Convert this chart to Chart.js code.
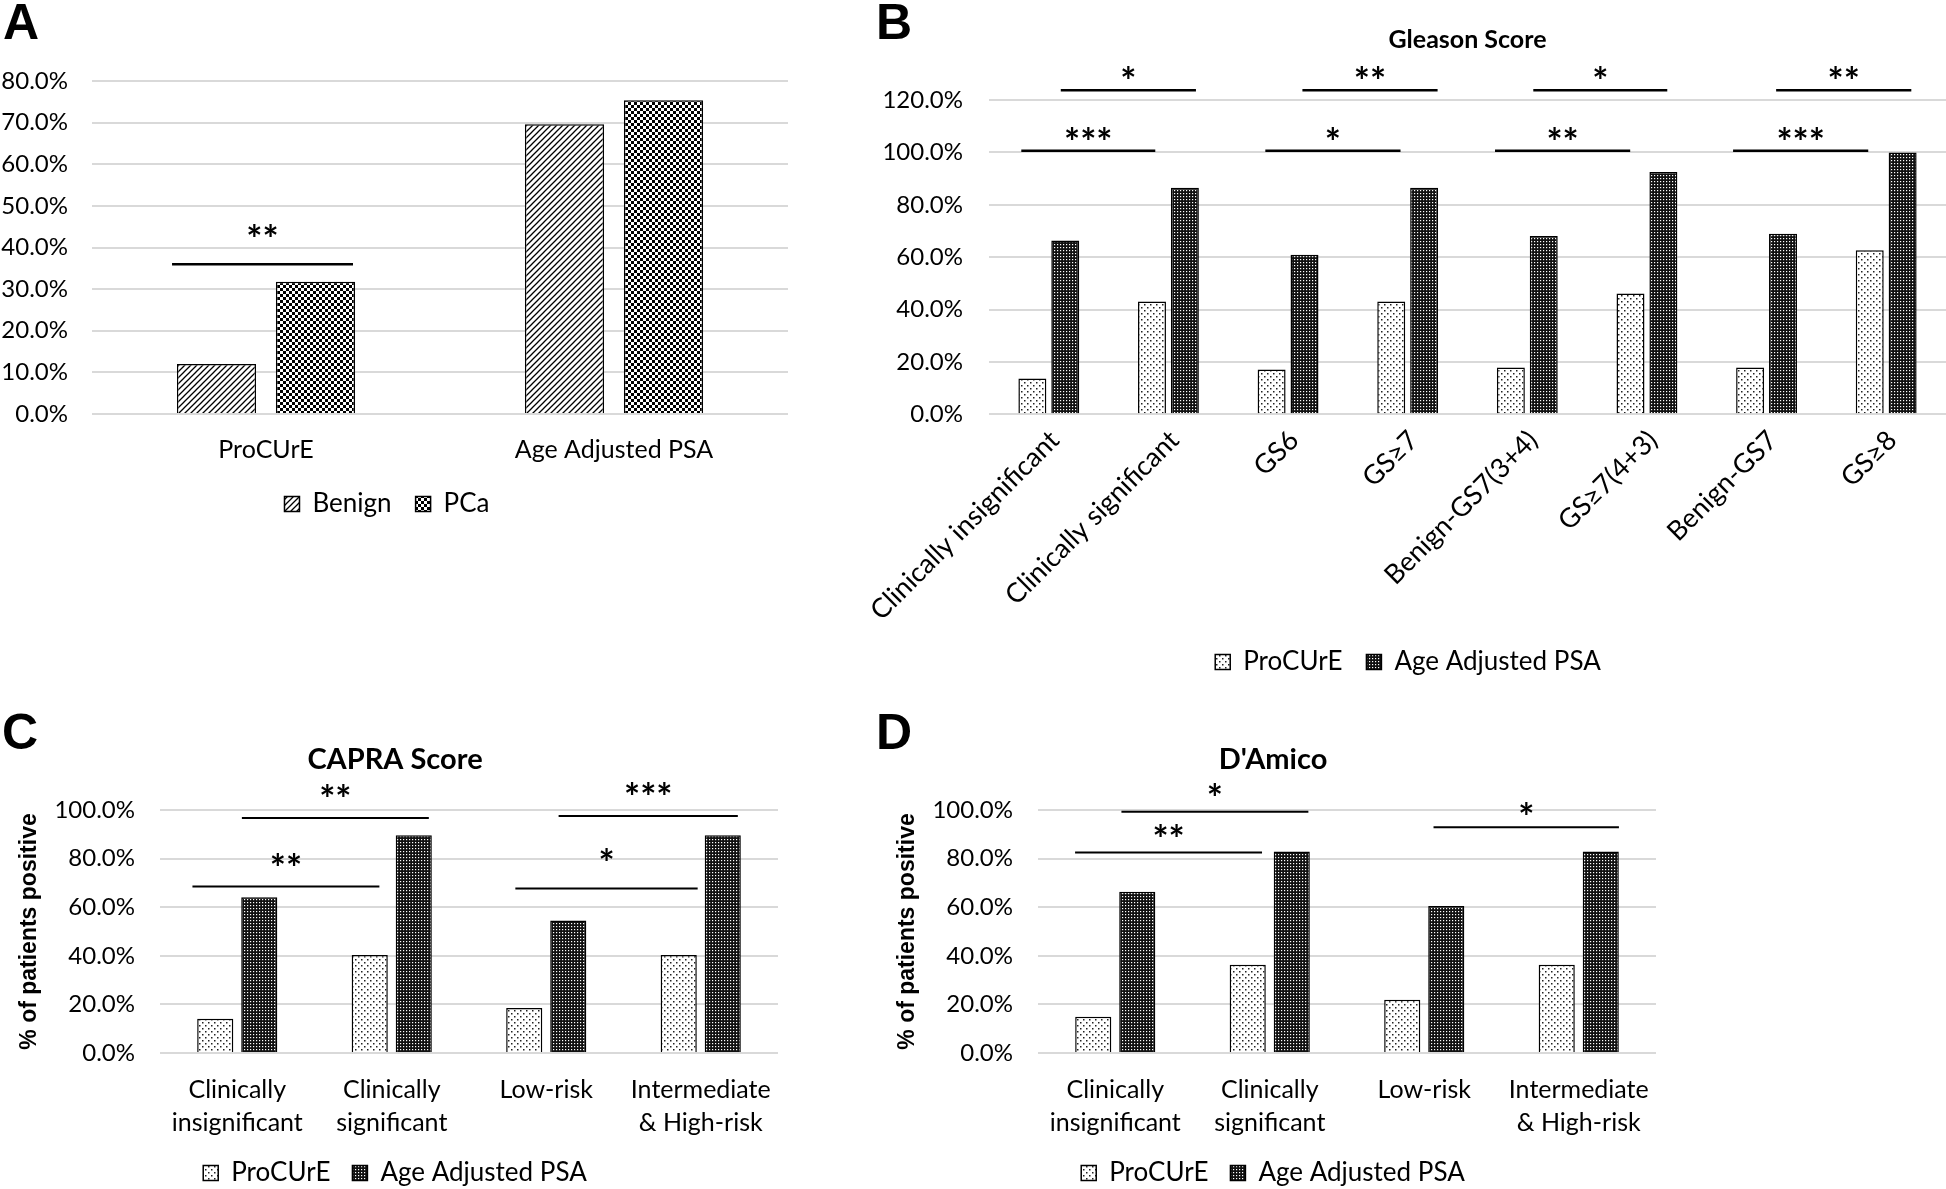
<!DOCTYPE html>
<html>
<head>
<meta charset="utf-8">
<script src="https://cdn.jsdelivr.net/npm/chart.js@4.4.1/dist/chart.umd.min.js"></script>
<style>
  html, body { margin: 0; padding: 0; background: #fff; overflow: hidden; width: 1946px; height: 1189px; }
  .panel { position: absolute; }
  .letter { position: absolute; font-family: "Liberation Sans", Arial, sans-serif; font-weight: bold; font-size: 50px; line-height: 1; color: #000; }
</style>
</head>
<body>
<div class="letter" style="left:3px;top:-3px">A</div>
<div class="letter" style="left:876px;top:-3px">B</div>
<div class="letter" style="left:2px;top:707px">C</div>
<div class="letter" style="left:876px;top:707px">D</div>

<div class="panel" style="left:-14px;top:0;width:814px;height:540px"><canvas id="chartA"></canvas></div>
<div class="panel" style="left:870px;top:0;width:1076px;height:690px"><canvas id="chartB"></canvas></div>
<div class="panel" style="left:0;top:700px;width:794px;height:496px"><canvas id="chartC"></canvas></div>
<div class="panel" style="left:878px;top:700px;width:794px;height:496px"><canvas id="chartD"></canvas></div>

<script>
// ---- data ----
const catsA = ['ProCUrE', 'Age Adjusted PSA'];
const benignA = [12.0, 69.6];
const pcaA = [31.8, 75.4];

const catsB = ['Clinically insignificant', 'Clinically significant', 'GS6', 'GS\u22657',
  'Benign-GS7(3+4)', 'GS\u22657(4+3)', 'Benign-GS7', 'GS\u22658'];
const procureB = [13.7, 43.1, 17.1, 43.1, 17.9, 46.1, 17.9, 62.6];
const psaB = [66.4, 86.5, 60.9, 86.5, 68.1, 92.5, 68.9, 100.0];

const catsCD = [['Clinically', 'insignificant'], ['Clinically', 'significant'], 'Low-risk', ['Intermediate', '& High-risk']];
const procureC = [14.1, 40.3, 18.5, 40.3];
const psaC = [64.1, 89.6, 54.5, 89.6];
const procureD = [14.9, 36.3, 21.9, 36.3];
const psaD = [66.4, 82.9, 60.5, 82.9];

// significance markers: from/to in category units, y = line value, ty = star value
const sigA = [{from: -0.27, to: 0.25, y: 36, ty: 44.3, text: '**'}];
const sigB = [
  {from: -0.23, to: 0.89, y: 100.6, ty: 107.5, text: '***'},
  {from: 1.81, to: 2.94, y: 100.6, ty: 107.5, text: '*'},
  {from: 3.73, to: 4.86, y: 100.6, ty: 107.5, text: '**'},
  {from: 5.72, to: 6.85, y: 100.6, ty: 107.5, text: '***'},
  {from: 0.10, to: 1.23, y: 123.7, ty: 130.7, text: '*'},
  {from: 2.12, to: 3.25, y: 123.7, ty: 130.7, text: '**'},
  {from: 4.05, to: 5.17, y: 123.7, ty: 130.7, text: '*'},
  {from: 6.08, to: 7.21, y: 123.7, ty: 130.7, text: '**'}
];
const sigC = [
  {from: 0.03, to: 1.24, y: 96.7, ty: 108.2, text: '**'},
  {from: -0.29, to: 0.92, y: 68.5, ty: 79.7, text: '**'},
  {from: 2.08, to: 3.24, y: 97.5, ty: 108.9, text: '***'},
  {from: 1.80, to: 2.98, y: 67.7, ty: 81.9, text: '*'}
];
const sigD = [
  {from: 0.04, to: 1.25, y: 99.3, ty: 108.5, text: '*'},
  {from: -0.26, to: 0.95, y: 82.5, ty: 91.8, text: '**'},
  {from: 2.06, to: 3.26, y: 92.9, ty: 100.7, text: '*'}
];

Chart.defaults.color = '#000';
Chart.defaults.font.family = 'Lato';

// fill patterns like the excel ones
function pattern(kind) {
  const c = document.createElement('canvas');
  const g = c.getContext('2d');
  if (kind === 'hatch') {
    c.width = c.height = 6;
    g.fillStyle = '#fff'; g.fillRect(0, 0, 6, 6);
    g.strokeStyle = '#000'; g.lineWidth = 1.3;
    g.beginPath();
    g.moveTo(0, 6); g.lineTo(6, 0);
    g.moveTo(-1, 1); g.lineTo(1, -1);
    g.moveTo(5, 7); g.lineTo(7, 5);
    g.stroke();
  } else if (kind === 'checker') {
    c.width = c.height = 6;
    g.fillStyle = '#fff'; g.fillRect(0, 0, 6, 6);
    g.fillStyle = '#000'; g.fillRect(0, 0, 3, 3); g.fillRect(3, 3, 3, 3);
  } else if (kind === 'dots') {
    c.width = c.height = 6;
    g.fillStyle = '#fff'; g.fillRect(0, 0, 6, 6);
    g.fillStyle = '#222'; g.fillRect(1, 1, 1.5, 1.5); g.fillRect(4, 4, 1.5, 1.5);
  } else {
    c.width = c.height = 3;
    g.fillStyle = '#111'; g.fillRect(0, 0, 3, 3);
    g.fillStyle = '#fff'; g.fillRect(1, 1, 1.2, 1.2);
  }
  return g.createPattern(c, 'repeat');
}

const sigPlugin = {
  id: 'sig',
  afterDatasetsDraw(chart, args, opts) {
    const {ctx, scales: {x, y}} = chart;
    ctx.save();
    ctx.strokeStyle = '#000';
    ctx.fillStyle = '#000';
    ctx.lineWidth = opts.lineWidth || 2;
    ctx.font = 'bold 38px Lato';
    ctx.textAlign = 'center';
    ctx.textBaseline = 'alphabetic';
    opts.items.forEach(b => {
      const xa = x.getPixelForValue(b.from);
      const xb = x.getPixelForValue(b.to);
      const yl = y.getPixelForValue(b.y);
      ctx.beginPath(); ctx.moveTo(xa, yl); ctx.lineTo(xb, yl); ctx.stroke();
      const m = ctx.measureText(b.text);
      const cy = y.getPixelForValue(b.ty);
      ctx.fillText(b.text, (xa + xb) / 2, cy + (m.actualBoundingBoxAscent - m.actualBoundingBoxDescent) / 2);
    });
    ctx.restore();
  }
};

function barChart(id, o) {
  return new Chart(document.getElementById(id), {
    type: 'bar',
    data: {
      labels: o.labels,
      datasets: o.sets.map(s => ({
        label: s.label,
        data: s.data,
        backgroundColor: s.fill,
        borderColor: '#000',
        borderWidth: 1.5,
        categoryPercentage: o.catPct,
        barPercentage: o.barPct
      }))
    },
    options: {
      responsive: true,
      maintainAspectRatio: false,
      animation: false,
      layout: { padding: o.padding },
      plugins: {
        title: {
          display: !!o.title,
          text: o.title,
          fullSize: o.titleFull,
          font: { family: 'Lato', weight: 'bold', size: o.titleSize },
          padding: o.titlePad
        },
        legend: {
          position: 'bottom',
          labels: { font: { size: 26 }, boxWidth: 15, boxHeight: 15, padding: o.legendPad }
        },
        tooltip: { enabled: false },
        sig: { items: o.sig, lineWidth: o.sigWidth }
      },
      scales: {
        x: {
          grid: { display: false, drawTicks: false },
          border: { display: false },
          ticks: {
            autoSkip: false,
            maxRotation: o.rot, minRotation: o.rot,
            labelOffset: o.labelOffset || 0,
            padding: o.xPad,
            font: { size: o.xSize, lineHeight: o.xLine }
          },
          afterFit: s => { s.height = o.xHeight; s.paddingLeft = 0; s.paddingRight = 0; }
        },
        y: {
          min: 0, max: o.max,
          grid: { color: '#d9d9d9', lineWidth: 2, drawTicks: false },
          border: { display: false },
          ticks: {
            stepSize: o.step,
            padding: o.tickPad,
            font: { size: 24 },
            callback: v => v.toFixed(1) + '%'
          },
          title: {
            display: !!o.yTitle,
            text: o.yTitle,
            font: { family: 'Liberation Sans', weight: 'bold', size: 23 },
            padding: { top: 4, bottom: 4 }
          },
          afterFit: s => { s.width = o.yWidth; }
        }
      }
    },
    plugins: [sigPlugin]
  });
}

const hatch = pattern('hatch');
const checker = pattern('checker');
const dots = pattern('dots');
const dark = pattern('dark');

barChart('chartA', {
  labels: catsA,
  sets: [{label: 'Benign', data: benignA, fill: hatch}, {label: 'PCa', data: pcaA, fill: checker}],
  catPct: 0.569, barPct: 0.8,
  padding: {top: 81, left: 0, right: 12, bottom: 13},
  legendPad: 24, rot: 0, xPad: 21, xSize: 25, xLine: 1.2, xHeight: 53,
  max: 80, step: 10, tickPad: 24, yWidth: 106,
  sig: sigA, sigWidth: 2.5
});

barChart('chartB', {
  labels: catsB,
  sets: [{label: 'ProCUrE', data: procureB, fill: dots}, {label: 'Age Adjusted PSA', data: psaB, fill: dark}],
  catPct: 0.55, barPct: 0.85,
  title: 'Gleason Score', titleFull: false, titleSize: 25, titlePad: {top: 25, bottom: 45},
  padding: {top: 0, left: 0, right: 0, bottom: 5},
  legendPad: 24, rot: 45, labelOffset: 6, xPad: 10, xSize: 27, xLine: 1.2, xHeight: 210.7,
  max: 120, step: 20, tickPad: 26, yWidth: 119,
  sig: sigB, sigWidth: 2.5
});

barChart('chartC', {
  labels: catsCD,
  sets: [{label: 'ProCUrE', data: procureC, fill: dots}, {label: 'Age Adjusted PSA', data: psaC, fill: dark}],
  catPct: 0.57, barPct: 0.82,
  title: 'CAPRA Score', titleFull: true, titleSize: 29, titlePad: {top: 42.6, bottom: 32.6},
  padding: {top: 0, left: 12, right: 16, bottom: 0},
  legendPad: 22, rot: 0, xPad: 20.5, xSize: 25, xLine: 1.32, xHeight: 85,
  max: 100, step: 20, tickPad: 25, yWidth: 148, yTitle: '% of patients positive',
  sig: sigC, sigWidth: 2
});

barChart('chartD', {
  labels: catsCD,
  sets: [{label: 'ProCUrE', data: procureD, fill: dots}, {label: 'Age Adjusted PSA', data: psaD, fill: dark}],
  catPct: 0.57, barPct: 0.82,
  title: "D'Amico", titleFull: true, titleSize: 29, titlePad: {top: 42.6, bottom: 32.6},
  padding: {top: 0, left: 12, right: 16, bottom: 0},
  legendPad: 22, rot: 0, xPad: 20.5, xSize: 25, xLine: 1.32, xHeight: 85,
  max: 100, step: 20, tickPad: 25, yWidth: 148, yTitle: '% of patients positive',
  sig: sigD, sigWidth: 2
});
</script>
</body>
</html>
